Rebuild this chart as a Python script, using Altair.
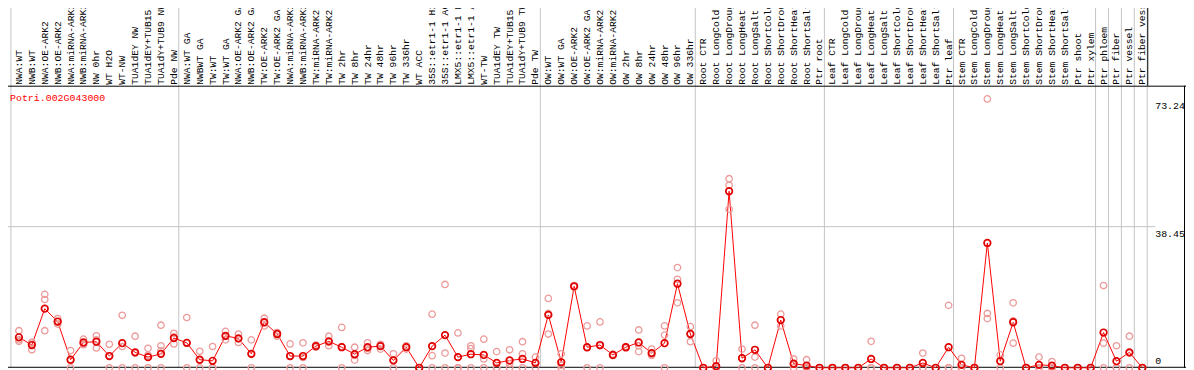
import altair as alt
import pandas as pd

gene_id = "Potri.002G043000"

labels = [
    "NWA:WT", "NWB:WT", "NWA:OE-ARK2", "NWB:OE-ARK2", "NWA:miRNA-ARK2", "NWB:miRNA-ARK2",
    "NW 0hr", "WT H2O", "WT-NW", "TUA1dEY NW", "TUA1dEY+TUB15 NW", "TUA1dY+TUB9 NW", "Pde NW",
    "NWA:WT GA", "NWBWT GA", "TW:WT", "TW:WT GA", "NWA:OE-ARK2 GA", "NWB:OE-ARK2 GA",
    "TW:OE-ARK2", "TW:OE-ARK2 GA", "NWA:miRNA-ARK2", "NWB:miRNA-ARK2", "TW:miRNA-ARK2",
    "TW:miRNA-ARK2", "TW 2hr", "TW 8hr", "TW 24hr", "TW 48hr", "TW 96hr", "TW 336hr", "WT ACC",
    "35S::etr1-1 H2O", "35S::etr1-1 ACC", "LMX5::etr1-1 H2O", "LMX5::etr1-1 ACC", "WT-TW",
    "TUA1dEY TW", "TUA1dEY+TUB15 TW", "TUA1dY+TUB9 TW", "Pde TW",
    "OW:WT", "OW:WT GA", "OW:OE-ARK2", "OW:OE-ARK2 GA", "OW:miRNA-ARK2", "OW:miRNA-ARK2",
    "OW 2hr", "OW 8hr", "OW 24hr", "OW 48hr", "OW 96hr", "OW 336hr",
    "Root CTR", "Root LongCold", "Root LongDrought", "Root LongHeat", "Root LongSalt",
    "Root ShortCold", "Root ShortDrought", "Root ShortHeat", "Root ShortSalt", "Ptr root",
    "Leaf CTR", "Leaf LongCold", "Leaf LongDrought", "Leaf LongHeat", "Leaf LongSalt",
    "Leaf ShortCold", "Leaf ShortDrought", "Leaf ShortHeat", "Leaf ShortSalt", "Ptr leaf",
    "Stem CTR", "Stem LongCold", "Stem LongDrought", "Stem LongHeat", "Stem LongSalt",
    "Stem ShortCold", "Stem ShortDrought", "Stem ShortHeat", "Stem ShortSalt", "Ptr shoot",
    "Ptr xylem", "Ptr phloem", "Ptr fiber", "Ptr vessel", "Ptr fiber vessel",
]

means = [
    8.3, 6.2, 16.1, 12.6, 2.2, 6.9, 7.1, 3.2, 6.7, 4.2, 2.9, 3.8, 8.1,
    6.8, 2.2, 1.9, 8.7, 8.0, 3.8, 12.4, 9.2, 3.2, 3.2, 5.9, 7.2, 5.6, 3.7, 5.6, 5.9, 2.0,
    5.6, 0.0, 5.9, 8.9, 2.9, 3.7, 3.5, 1.35, 2.0, 2.4, 1.35,
    14.4, 1.5, 22.2, 5.6, 6.2, 3.5, 5.6, 6.9, 4.0, 6.7, 22.9, 9.2,
    0.0, 0.45, 48.1, 2.6, 4.9, 0.0, 13.0, 1.1, 0.6, 0.0,
    0.0, 0.0, 0.0, 2.4, 0.0, 0.0, 0.0, 1.3, 0.0, 5.6,
    0.8, 0.0, 34.0, 1.8, 12.4, 0.0, 0.8, 0.6, 0.0, 0.0,
    0.0, 9.6, 1.8, 4.2, 0.0,
]

replicates = [
    [10.1, 7.6, 7.2], [4.9, 6.9, 6.8], [20.0, 18.6, 10.1], [13.4, 11.9, 12.5],
    [4.7, 0.0, 2.0], [7.8, 6.3, 6.6], [8.7, 5.4, 7.6], [6.4, 0.0, 3.2],
    [14.3, 0.0, 5.8], [8.6, 0.0, 4.0], [5.3, 0.0, 3.4], [11.6, 6.0, 4.6, 0.0],
    [9.4, 6.5, 8.4],
    [13.7, 0.0, 6.7], [4.5, 0.0, 2.1], [5.8, 0.0, 0.0], [9.9, 7.6, 8.6],
    [9.2, 6.9, 7.9], [7.6, 0.0, 3.8], [13.5, 11.4, 12.3], [9.6, 8.6, 9.4],
    [6.5, 0.0, 3.1], [6.8, 0.0, 2.8], [6.2, 5.6, 5.9], [8.6, 6.0, 7.0],
    [11.0, 0.0, 5.8], [5.6, 3.4, 2.1], [6.8, 4.7, 5.3], [5.1, 6.4, 6.2],
    [3.8, 0.0, 2.2], [6.0, 5.1, 5.7], [0.0, 0.0, 0.0], [14.6, 3.3, 0.0],
    [22.7, 4.0, 0.0], [9.5, 0.0, 0.0], [6.0, 5.2, 0.0], [7.8, 2.4, 0.0],
    [4.4, 0.0, 0.0], [4.9, 0.0, 1.1], [7.1, 3.8, 0.0], [2.9, 0.0, 1.2],
    [18.9, 14.8, 9.2], [3.8, 0.0, 0.7], [22.4, 22.0, 22.2], [11.4, 0.0, 5.4],
    [12.5, 0.0, 6.0], [3.7, 3.3, 3.5], [5.8, 5.4, 5.6], [10.3, 4.4, 6.0],
    [5.1, 3.5, 3.4], [11.4, 8.9, 0.0], [27.3, 24.1, 17.7], [11.2, 7.1, 9.3],
    [0.0, 0.0, 0.0], [1.9, 0.0, 0.0], [51.5, 49.7, 43.2], [5.1, 0.0, 2.7],
    [11.6, 2.9, 0.0], [0.0, 0.0, 0.0], [14.6, 11.4, 13.0], [2.4, 0.0, 0.9],
    [2.2, 0.0, 0.0], [0.0, 0.0, 0.0],
    [0.0, 0.0, 0.0], [0.0, 0.0, 0.0], [0.0, 0.0, 0.0], [7.2, 0.0, 0.0],
    [0.0, 0.0, 0.0], [0.0, 0.0, 0.0], [0.0, 0.0, 0.0], [4.0, 0.0, 0.0],
    [0.0, 0.0, 0.0], [17.0, 0.0, 0.0],
    [2.6, 0.0, 0.0], [0.0, 0.0, 0.0], [73.24, 14.8, 13.4], [3.5, 1.9, 0.0],
    [17.7, 6.7, 12.8], [0.0, 0.0, 0.0], [2.9, 0.0, 0.0], [1.7, 0.0, 0.0],
    [0.0, 0.0, 0.0], [0.0, 0.0, 0.0],
    [0.0, 0.0, 0.0], [22.4, 6.7, 0.0], [6.0, 0.0, 0.0], [8.6, 0.0, 4.0],
    [0.0, 0.0, 0.0],
]

# first column index of each sample group (last entry = end)
group_starts = [0, 13, 41, 53, 63, 73, 84, 85, 86, 87, 88]
y_ticks = [73.24, 38.45, 0]
grid_value = 38.45

n = len(labels)
df = pd.DataFrame({"i": list(range(n)), "label": labels, "mean": means})
rep_df = pd.DataFrame(
    [{"i": i, "v": v} for i, vs in enumerate(replicates) for v in vs]
)
grid_df = pd.DataFrame({"b": [g - 0.62 for g in group_starts]})
tick_df = pd.DataFrame({"v": y_ticks, "t": [f"{v:g}" if v == 0 else f"{v:.2f}" for v in y_ticks]})

xs = alt.Scale(domain=[0, 87], range=[19, 1150], nice=False, zero=False)
ys = alt.Scale(domain=[0, 73.24], range=[369, 98.3], nice=False, zero=False)

FONT = "Liberation Mono"
GRID = "#c4c4c4"
one = pd.DataFrame({"k": [0]})

vgrid = alt.Chart(grid_df).mark_rule(color=GRID, strokeWidth=1).encode(
    x=alt.X("b:Q", scale=xs, axis=None), y=alt.value(0), y2=alt.value(369)
)
hgrid = alt.Chart(pd.DataFrame({"v": [grid_value]})).mark_rule(color=GRID, strokeWidth=1).encode(
    y=alt.Y("v:Q", scale=ys, axis=None), x=alt.value(0), x2=alt.value(1163)
)

frame = [
    alt.Chart(one).mark_rule(color="black", strokeWidth=1).encode(
        x=alt.value(0), x2=alt.value(1194), y=alt.value(85.5)),
    alt.Chart(one).mark_rule(color="black", strokeWidth=1).encode(
        x=alt.value(0), x2=alt.value(1194), y=alt.value(368.5)),
    alt.Chart(one).mark_rule(color="black", strokeWidth=1).encode(
        x=alt.value(0), x2=alt.value(1155), y=alt.value(0.5)),
    alt.Chart(one).mark_rule(color="black", strokeWidth=1).encode(
        x=alt.value(1155.5), y=alt.value(0), y2=alt.value(85)),
    alt.Chart(one).mark_rule(color="black", strokeWidth=1).encode(
        x=alt.value(0.5), y=alt.value(85), y2=alt.value(369)),
    alt.Chart(one).mark_rule(color="black", strokeWidth=1).encode(
        x=alt.value(1192.5), y=alt.value(85), y2=alt.value(369)),
]

label_text = alt.Chart(df).mark_text(
    angle=270, align="left", baseline="middle", font=FONT, fontSize=9.7, color="black"
).encode(x=alt.X("i:Q", scale=xs, axis=None), y=alt.value(84), text="label:N")

line = alt.Chart(df).mark_line(color="#ff0000", strokeWidth=1).encode(
    x=alt.X("i:Q", scale=xs, axis=None), y=alt.Y("mean:Q", scale=ys, axis=None)
)
rep_pts = alt.Chart(rep_df).mark_point(
    shape="circle", filled=False, size=42, color="#ec9a9a", strokeWidth=1.3, opacity=1
).encode(x=alt.X("i:Q", scale=xs, axis=None), y=alt.Y("v:Q", scale=ys, axis=None))
mean_pts = alt.Chart(df).mark_point(
    shape="circle", filled=False, size=44, color="#e00000", strokeWidth=1.7, opacity=1
).encode(x=alt.X("i:Q", scale=xs, axis=None), y=alt.Y("mean:Q", scale=ys, axis=None))

title = alt.Chart(pd.DataFrame({"t": [gene_id]})).mark_text(
    align="left", baseline="alphabetic", font=FONT, fontSize=10, color="#ff0000"
).encode(x=alt.value(10), y=alt.value(100), text="t:N")

tick_hi = alt.Chart(tick_df[tick_df.v > 0]).mark_text(
    align="left", baseline="top", font=FONT, fontSize=10, color="black", dy=2
).encode(x=alt.value(1163), y=alt.Y("v:Q", scale=ys, axis=None), text="t:N")
tick_zero = alt.Chart(tick_df[tick_df.v == 0]).mark_text(
    align="left", baseline="alphabetic", font=FONT, fontSize=10, color="black", dy=-4
).encode(x=alt.value(1163), y=alt.Y("v:Q", scale=ys, axis=None), text="t:N")

chart = alt.layer(
    vgrid, hgrid, *frame, label_text, line, rep_pts, mean_pts, title, tick_hi, tick_zero
).properties(
    width=1194, height=370,
    autosize=alt.AutoSizeParams(type="none"),
    padding={"left": -8, "top": -8, "right": 0, "bottom": 0},
).configure_view(strokeWidth=0)

chart.save("out.html", embed_options={"renderer": "svg", "actions": False})
